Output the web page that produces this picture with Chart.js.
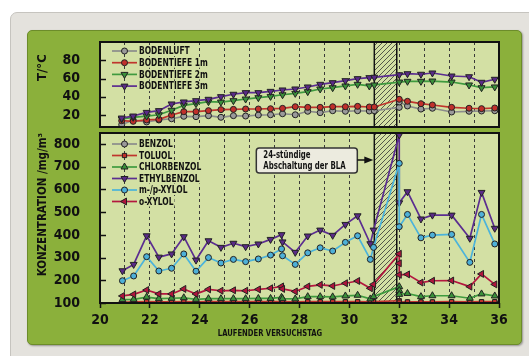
<!DOCTYPE html>
<html><head><meta charset="utf-8">
<script src="https://cdn.jsdelivr.net/npm/chart.js@4"></script>
<style>
html,body{margin:0;padding:0;background:#fff;width:529px;height:356px;overflow:hidden;position:relative}
#outer{position:absolute;left:10px;top:12px;width:530px;height:360px;background:#e4e2dd;border:1px solid #c6c4bf;border-radius:7px;box-sizing:border-box}
#panel{position:absolute;left:27px;top:30px;width:495px;height:315px;background:#8bb03b;border:1px solid #6c8c2a;border-radius:5px;box-sizing:border-box;box-shadow:1px 1px 2px rgba(0,0,0,.35)}
canvas{position:absolute;left:0;top:0}
</style></head><body>
<div id="outer"></div><div id="panel"></div>
<canvas id="cTop" width="529" height="356"></canvas>
<canvas id="cBot" width="529" height="356"></canvas>
<script>
// ---------- data ----------
const tempDays = [20.87, 21.33, 21.87, 22.36, 22.87, 23.36, 23.85, 24.35, 24.85, 25.35, 25.84, 26.35, 26.84, 27.32, 27.83, 28.33, 28.83, 29.33, 29.84, 30.33, 30.8, 31.0, 32.0, 32.0, 32.33, 32.87, 33.33, 34.1, 34.8, 35.3, 35.83];
const bodenluft   = [9.5, 14.7, 12.5, 14.7, 16.0, 18.7, 18.3, 19.4, 17.6, 19.4, 19.0, 20.1, 20.4, 21.5, 20.4, 24.2, 22.7, 24.8, 24.2, 24.8, 24.5, 24.8, 28.5, 34.4, 30.0, 26.6, 27.5, 23.4, 24.2, 24.5, 24.8];
const bodentiefe1 = [13.9, 13.2, 14.7, 15.4, 20.1, 23.8, 23.8, 24.9, 26.0, 26.3, 26.7, 26.7, 27.0, 27.4, 29.2, 28.5, 28.5, 29.2, 29.2, 29.6, 28.9, 28.9, 37.3, null, 35.1, 32.5, 31.1, 28.5, 27.5, 27.1, 27.8];
const bodentiefe2 = [15.8, 17.6, 19.0, 20.4, 25.3, 30.7, 32.5, 34.7, 34.3, 35.8, 37.6, 39.1, 40.5, 42.3, 43.8, 45.7, 48.6, 50.0, 51.9, 53.7, 51.9, 53.0, 56.2, null, 57.0, 57.0, 57.3, 56.2, 53.0, 50.0, 50.8];
const bodentiefe3 = [16.8, 19.0, 23.0, 24.9, 32.2, 34.4, 35.8, 37.3, 40.2, 42.8, 44.6, 44.6, 46.0, 47.5, 48.6, 50.8, 53.7, 55.5, 57.7, 59.9, 61.0, 61.4, 64.2, null, 65.3, 64.7, 66.1, 62.8, 62.0, 55.9, 59.2];
const tempTicks = [20, 40, 60, 80];

const concDays = [20.9, 21.35, 21.87, 22.36, 22.87, 23.36, 23.85, 24.35, 24.85, 25.35, 25.84, 26.35, 26.84, 27.28, 27.32, 27.83, 28.33, 28.83, 29.33, 29.84, 30.33, 30.84, 30.97, 32.0, 32.0, 32.0, 32.33, 32.87, 33.33, 34.1, 34.83, 35.3, 35.83];
const benzol      = [101, 101, 101, 101, 101, 101, 101, 101, 101, 101, 101, 101, 101, 101, 101, 101, 101, 101, 101, 101, 101, 101, 101, 102, null, null, 101, 101, 101, 101, 101, 101, 101];
const toluol      = [103, 105, 106, 105, 105, 106, 105, 106, 106, 106, 106, 106, 106, 106, 106, 105, 106, 106, 106, 106, 106, 105, 106, 110, 104, null, 105, 105, 105, 106, 105, 106, 106];
const chlorbenzol = [115, 116, 126, 119, 121, 123, 116, 119, 119, 119, 119, 120, 120, 125, 119, 118, 128, 128, 127, 131, 134, 118, 128, 172, 155, 138, 142, 128, 132, 132, 121, 140, 131];
const ethylbenzol = [242, 270, 396, 302, 316, 392, 289, 374, 345, 363, 348, 360, 380, 401, 369, 323, 395, 421, 398, 446, 484, 361, 421, 840, 541, null, 590, 470, 487, 487, 385, 587, 429];
const mpXylol     = [198, 219, 304, 241, 253, 316, 240, 300, 276, 292, 282, 294, 311, 338, 308, 270, 321, 343, 329, 367, 396, 292, 345, 715, 436, null, 490, 387, 399, 402, 279, 490, 360];
const oXylol      = [131, 138, 157, 140, 140, 162, 140, 160, 154, 156, 154, 160, 165, 173, 162, 151, 173, 180, 175, 187, 197, 165, 182, 317, 275, 224, 226, 190, 198, 199, 172, 228, 182];
const concTicks = [100, 200, 300, 400, 500, 600, 700, 800];

const dayMin = 20, dayMax = 36;
const shutdownFrom = 31, shutdownTo = 31.9;
const noteLines = ['24-stündige', 'Abschaltung der BLA'];
const xTitle = 'LAUFENDER VERSUCHSTAG';
const tempTitle = 'T/°C   ';
const concTitle = 'KONZENTRATION /mg/m³';

// ---------- styling ----------
const COND = "'DejaVu Sans Condensed', 'Liberation Sans Narrow', sans-serif";
const PLOT_BG = '#d3e0a4';
const INK = '#111';
const SX = 0.76; // horizontal squeeze for the very condensed legend / note text

const hatchTile = (() => {
  const c = document.createElement('canvas'); c.width = 5; c.height = 5;
  const g = c.getContext('2d');
  g.strokeStyle = '#333'; g.lineWidth = 0.8;
  g.beginPath();
  g.moveTo(0, 5); g.lineTo(5, 0);
  g.moveTo(-1, 1); g.lineTo(1, -1);
  g.moveTo(4, 6); g.lineTo(6, 4);
  g.stroke();
  return c;
})();

function ds(label, days, vals, color, fill, style, rot, radius, idx) {
  return {
    label, data: days.map((d, i) => ({x: d, y: vals[i]})),
    borderColor: color, backgroundColor: fill,
    pointBackgroundColor: fill, pointBorderColor: '#222', pointBorderWidth: 1,
    pointStyle: style, pointRotation: rot, pointRadius: radius,
    borderWidth: 1.7, tension: 0, spanGaps: true, order: -idx,
    clip: {left: 5, top: 6, right: 5, bottom: 1}
  };
}

function drawPt(ctx, d, x, y) {
  if (Chart.helpers && Chart.helpers.drawPoint) {
    Chart.helpers.drawPoint(ctx, {pointStyle: d.pointStyle, radius: d.pointRadius, rotation: d.pointRotation, borderWidth: 1}, x, y);
  } else {
    ctx.beginPath(); ctx.arc(x, y, d.pointRadius, 0, Math.PI * 2); ctx.fill(); ctx.stroke();
  }
}

function squeezed(ctx, text, x, y, size, align, sx) {
  ctx.save();
  ctx.font = 'bold ' + size + 'px ' + COND;
  ctx.textAlign = align; ctx.textBaseline = 'middle';
  ctx.translate(x, y); ctx.scale(sx, 1);
  ctx.fillText(text, 0, 0);
  const w = ctx.measureText(text).width * sx;
  ctx.restore();
  return w;
}

const deco = {
  id: 'deco',
  beforeDraw(chart) {
    const {ctx, chartArea: a} = chart;
    ctx.save(); ctx.fillStyle = PLOT_BG;
    ctx.fillRect(a.left, a.top, a.right - a.left, a.bottom - a.top);
    ctx.restore();
  },
  beforeDatasetsDraw(chart) {
    const {ctx, chartArea: a, scales: {x, y}} = chart;
    const x0 = x.getPixelForValue(shutdownFrom), x1 = x.getPixelForValue(shutdownTo);
    ctx.save();
    ctx.fillStyle = ctx.createPattern(hatchTile, 'repeat');
    ctx.fillRect(x0, a.top, x1 - x0, a.bottom - a.top);
    ctx.strokeStyle = INK; ctx.lineWidth = 1.5;
    ctx.beginPath();
    ctx.moveTo(x0, a.top); ctx.lineTo(x0, a.bottom);
    ctx.moveTo(x1, a.top); ctx.lineTo(x1, a.bottom);
    ctx.stroke();
    y.ticks.forEach(t => {
      const py = Math.round(y.getPixelForValue(t.value)) + 0.5;
      ctx.beginPath(); ctx.moveTo(a.left, py); ctx.lineTo(a.left + 6, py); ctx.stroke();
    });
    ctx.restore();
  },
  afterDraw(chart, args, o) {
    const {ctx, chartArea: a, scales: {x}} = chart;
    ctx.save();
    ctx.strokeStyle = INK; ctx.lineWidth = 2;
    ctx.strokeRect(a.left, a.top, a.right - a.left, a.bottom - a.top);
    // legend
    const L = o.legend;
    chart.data.datasets.forEach((d, i) => {
      const yy = L.y + i * L.step;
      ctx.strokeStyle = d.borderColor; ctx.lineWidth = 1.7;
      ctx.beginPath(); ctx.moveTo(L.x, yy); ctx.lineTo(L.x + 25, yy); ctx.stroke();
      ctx.fillStyle = d.pointBackgroundColor; ctx.strokeStyle = '#222'; ctx.lineWidth = 1;
      drawPt(ctx, d, L.x + 12.5, yy);
      ctx.save();
      ctx.font = 'bold 11px ' + COND;
      const w = ctx.measureText(d.label).width * SX;
      ctx.restore();
      ctx.fillStyle = PLOT_BG; ctx.fillRect(L.x + 26, yy - 5, w + 2, 10);
      ctx.fillStyle = INK;
      squeezed(ctx, d.label, L.x + 27, yy + 0.5, 11, 'left', SX);
    });
    // note
    if (o.note) {
      const tip = x.getPixelForValue(shutdownFrom) - 1, ay = 160;
      const r = tip - 16, l = r - 101, t = 148, b = 173, rad = 3;
      ctx.beginPath();
      ctx.moveTo(l + rad, t); ctx.lineTo(r - rad, t); ctx.arcTo(r, t, r, t + rad, rad);
      ctx.lineTo(r, b - rad); ctx.arcTo(r, b, r - rad, b, rad);
      ctx.lineTo(l + rad, b); ctx.arcTo(l, b, l, b - rad, rad);
      ctx.lineTo(l, t + rad); ctx.arcTo(l, t, l + rad, t, rad); ctx.closePath();
      ctx.fillStyle = '#ecebdf'; ctx.fill();
      ctx.strokeStyle = '#333'; ctx.lineWidth = 1.5; ctx.stroke();
      ctx.fillStyle = INK;
      squeezed(ctx, noteLines[0], l + 7, 155.5, 10.5, 'left', 0.74);
      squeezed(ctx, noteLines[1], l + 7, 166, 10.5, 'left', 0.74);
      ctx.strokeStyle = INK; ctx.lineWidth = 1.5;
      ctx.beginPath(); ctx.moveTo(r, ay); ctx.lineTo(tip - 8, ay); ctx.stroke();
      ctx.beginPath(); ctx.moveTo(tip - 9, ay - 3.5); ctx.lineTo(tip, ay); ctx.lineTo(tip - 9, ay + 3.5); ctx.closePath();
      ctx.fillStyle = INK; ctx.fill();
    }
    if (o.xTitle) {
      ctx.fillStyle = INK;
      squeezed(ctx, o.xTitle, 270, 333.5, 9.5, 'center', 0.8);
    }
    ctx.restore();
  }
};

const tickFont = {family: COND, weight: 'bold', size: 14};
function xScale(bottom) {
  return {
    type: 'linear', min: dayMin, max: dayMax,
    afterBuildTicks: s => { const t = []; for (let v = dayMin; v <= dayMax; v++) t.push({value: v}); s.ticks = t; },
    afterFit: s => { s.height = bottom ? 22 : 0; },
    grid: {
      display: true, color: '#3a3a3a', lineWidth: 1, borderDash: [3, 3],
      drawTicks: bottom, tickLength: 5, tickWidth: 1.5, tickBorderDash: [],
      tickColor: c => (c.tick && c.tick.value % 2 === 0) ? INK : 'rgba(0,0,0,0)'
    },
    border: {display: false, dash: [3, 3]},
    ticks: {
      display: bottom, autoSkip: false, maxRotation: 0, padding: 4, color: INK, font: tickFont,
      callback: v => (v % 2 === 0 ? String(v) : '')
    }
  };
}
function yScale(min, max, ticks, title, tsize, tpad) {
  return {
    min, max,
    afterBuildTicks: s => { s.ticks = ticks.map(v => ({value: v})); },
    afterFit: s => { s.width = 59; },
    grid: {display: false}, border: {display: false},
    ticks: {padding: 12, color: INK, font: tickFont},
    title: {display: true, text: title, align: 'end', color: INK,
            font: {family: COND, weight: 'bold', size: tsize}, padding: {top: tpad, bottom: 0}}
  };
}
const common = {
  responsive: false, animation: false, devicePixelRatio: 1, events: [],
  elements: {line: {borderJoinStyle: 'round'}}
};

new Chart(document.getElementById('cTop'), {
  type: 'line',
  data: {datasets: [
    ds('BODENLUFT', tempDays, bodenluft, '#8c8c8c', '#9a9a9a', 'circle', 0, 3, 0),
    ds('BODENTIEFE 1m', tempDays, bodentiefe1, '#c0352d', '#c0302b', 'circle', 0, 3, 1),
    ds('BODENTIEFE 2m', tempDays, bodentiefe2, '#3f9a3f', '#3a913a', 'triangle', 180, 4, 2),
    ds('BODENTIEFE 3m', tempDays, bodentiefe3, '#5b2d90', '#5a2a88', 'triangle', 180, 4, 3)
  ]},
  options: Object.assign({}, common, {
    layout: {padding: {left: 41, top: 42, right: 30, bottom: 229}},
    scales: {x: xScale(false), y: yScale(7, 100, tempTicks, tempTitle, 13, -6)},
    plugins: {legend: {display: false}, tooltip: {enabled: false}, title: {display: false},
              deco: {legend: {x: 112, y: 51, step: 11.7}, note: false, xTitle: null}}
  }),
  plugins: [deco]
});

new Chart(document.getElementById('cBot'), {
  type: 'line',
  data: {datasets: [
    ds('BENZOL', concDays, benzol, '#8c8c8c', '#9a9a9a', 'circle', 0, 3, 0),
    ds('TOLUOL', concDays, toluol, '#c0352d', '#c0302b', 'rect', 0, 3, 1),
    ds('CHLORBENZOL', concDays, chlorbenzol, '#3f9a3f', '#3a913a', 'triangle', 0, 4, 2),
    ds('ETHYLBENZOL', concDays, ethylbenzol, '#5b2d90', '#5a2a88', 'triangle', 180, 4, 3),
    ds('m-/p-XYLOL', concDays, mpXylol, '#4bb3db', '#4db0d8', 'circle', 0, 3, 4),
    ds('o-XYLOL', concDays, oXylol, '#b3173f', '#b0143c', 'triangle', -90, 4, 5)
  ]},
  options: Object.assign({}, common, {
    layout: {padding: {left: 41, top: 133, right: 30, bottom: 31}},
    scales: {x: xScale(true), y: yScale(100, 848.6, concTicks, concTitle, 11.5, -4.5)},
    plugins: {legend: {display: false}, tooltip: {enabled: false}, title: {display: false},
              deco: {legend: {x: 112, y: 144, step: 11.5}, note: true, xTitle: xTitle}}
  }),
  plugins: [deco]
});
</script>
</body></html>
